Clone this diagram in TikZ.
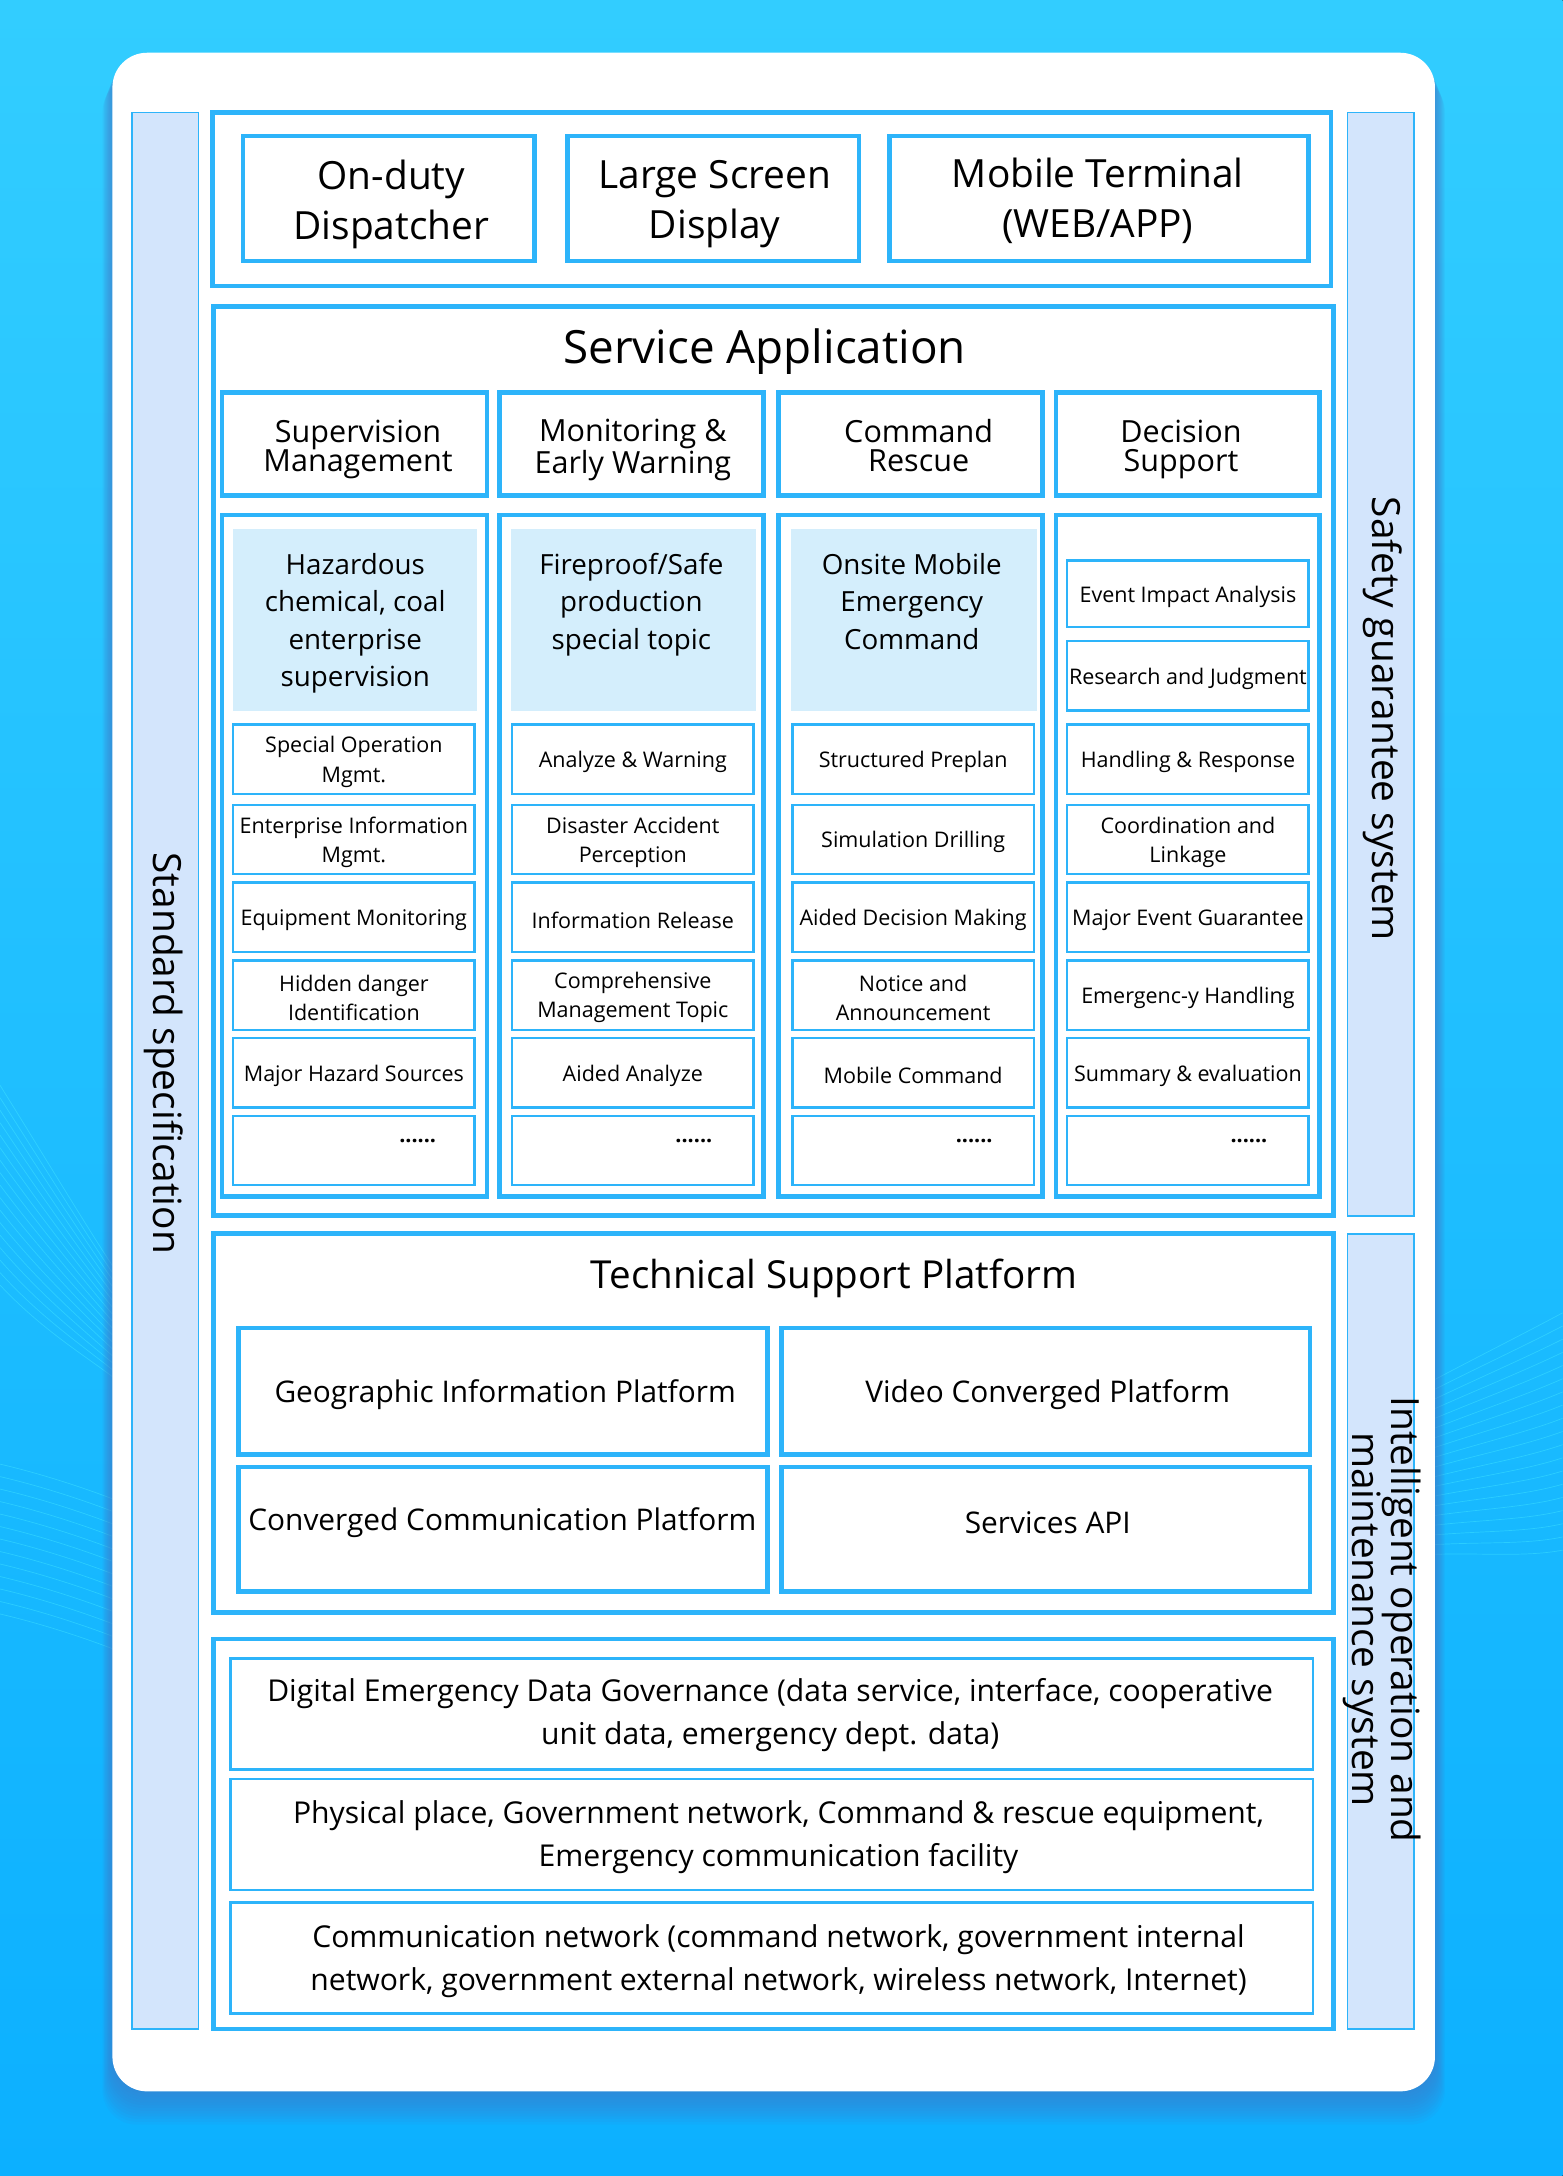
\documentclass[tikz,border=0pt]{standalone}
\usepackage{fontspec}
\setmainfont{Open Sans}
\definecolor{bgtop}{RGB}{50,205,255}
\definecolor{bgbot}{RGB}{12,176,255}
\definecolor{bblue}{RGB}{45,180,250}
\definecolor{barfill}{RGB}{211,229,252}
\definecolor{topicfill}{RGB}{212,238,252}
\definecolor{wavec}{RGB}{80,245,255}
\definecolor{shadowc}{RGB}{70,120,200}
\newcommand\fTop{\fontsize{28}{36}\selectfont}
\newcommand\fTitle{\fontsize{33}{38}\selectfont}
\newcommand\fHead{\fontsize{22}{21}\selectfont}
\newcommand\fTopic{\fontsize{20}{27}\selectfont}
\newcommand\fItem{\fontsize{15.5}{21}\selectfont}
\newcommand\fPlat{\fontsize{21.5}{28}\selectfont}
\newcommand\fPTitle{\fontsize{27.8}{32}\selectfont}
\newcommand\fBase{\fontsize{21.7}{31}\selectfont}
\newcommand\fSide{\fontsize{28}{19}\selectfont}
% \bx{name}{boxstyle}{x1}{y1}{x2}{y2}
\newcommand\bx[6]{\node[#2, minimum width={(#5-#3)*1pt}, minimum height={(#6-#4)*1pt}] (#1) at ({(#3+#5)/2},{(#4+#6)/2}) {};}
% \it{name}{x1}{y1}{x2}{y2}{text} : item box plus its text
\newcommand\itm[6]{\bx{#1}{thinbox}{#2}{#3}{#4}{#5}\node[itemtext] (#1t) at (#1.center) {#6};}
\begin{document}
\begin{tikzpicture}[x=1pt,y=-1pt,
  thickbox/.style={draw=bblue, line width=3.4pt, inner sep=0pt},
  thinbox/.style={draw=bblue, line width=1.7pt, inner sep=0pt},
  itemtext/.style={font=\fItem, align=center, inner sep=0pt, yshift=-2pt},
  sidebar/.style={draw=bblue, fill=barfill, line width=1.3pt, inner sep=0pt},
  topicbox/.style={fill=topicfill, inner sep=0pt},
  wave/.style={draw=wavec, line width=0.5pt, opacity=0.35}]
\useasboundingbox (0,0) rectangle (1126,1568);
\fill[top color=bgtop, bottom color=bgbot] (0,0) rectangle (1126,1568);
% decorative waves
\foreach \i in {0,...,16}{
  \draw[wave] (0,{782+\i*9}) .. controls (30,{830+\i*8}) and (60,{880+\i*6}) .. (81,{912+\i*5});
}
\foreach \i in {0,...,12}{
  \draw[wave] (0,{1055+\i*9}) .. controls (30,{1062+\i*9}) and (60,{1072+\i*9}) .. (81,{1080+\i*9});
}
\foreach \i in {0,...,18}{
  \draw[wave] (1034,{994+\i*7}) .. controls (1070,{975+\i*8}) and (1100,{960+\i*9}) .. (1126,{946+\i*9.5});
}
% card shadow
\foreach \i in {1,...,12}{
  \fill[shadowc, opacity=0.07, rounded corners=25pt] ({81-\i*0.6},{38+\i*1.5}) rectangle ({1034+\i*0.6},{1507+\i*2});
}
% card
\fill[white, rounded corners=25pt] (81,38) rectangle (1034,1507);

% side bars
\bx{stdbar}{sidebar}{95}{81}{143}{1462}
\node[font=\fSide, rotate=-90] (stdtxt) at (118,759) {Standard specification};
\bx{safebar}{sidebar}{971}{81}{1019}{876}
\node[font=\fSide, rotate=-90] (safetxt) at (996,518) {Safety guarantee system};
\bx{opbar}{sidebar}{971}{889}{1019}{1462}
\node[font=\fSide, rotate=-90, align=center] (optxt) at (996,1167) {Intelligent operation and\\maintenance system};

% top terminals
\bx{terminals}{thickbox}{153}{81}{959}{206}
\bx{duty}{thickbox}{175}{98}{385}{188}
\node[font=\fTop, align=center] (dutytxt) at (282,147) {On-duty\\Dispatcher};
\bx{screen}{thickbox}{409}{98}{619}{188}
\node[font=\fTop, align=center] (screentxt) at (515,147) {Large Screen\\Display};
\bx{mobile}{thickbox}{641}{98}{943}{188}
\node[font=\fTop, align=center] (mobiletxt) at (791,145) {Mobile Terminal\\(WEB/APP)};

% service application
\bx{service}{thickbox}{154}{221}{961}{876}
\node[font=\fTitle] (servicetitle) at (551,253) {Service Application};
\bx{h1}{thickbox}{160}{283}{351}{357}
\node[font=\fHead, align=center] (h1txt) at (258,324) {Supervision\\Management};
\bx{h2}{thickbox}{360}{283}{550}{357}
\node[font=\fHead, align=center] (h2txt) at (456,324) {Monitoring \&\\Early Warning};
\bx{h3}{thickbox}{561}{283}{751}{357}
\node[font=\fHead, align=center] (h3txt) at (662,321) {Command\\Rescue};
\bx{h4}{thickbox}{761}{283}{951}{357}
\node[font=\fHead, align=center] (h4txt) at (851,324) {Decision\\Support};
\bx{c1}{thickbox}{160}{371}{351}{862}
\bx{c2}{thickbox}{360}{371}{550}{862}
\bx{c3}{thickbox}{561}{371}{751}{862}
\bx{c4}{thickbox}{761}{371}{951}{862}
% topic blocks
\bx{t1}{topicbox}{168}{381}{344}{512}
\node[font=\fTopic, align=center, anchor=north] (t1txt) at (256,395) {Hazardous\\chemical, coal\\enterprise\\supervision};
\bx{t2}{topicbox}{368}{381}{545}{512}
\node[font=\fTopic, align=center, anchor=north] (t2txt) at (455,395) {Fireproof/Safe\\production\\special topic};
\bx{t3}{topicbox}{570}{381}{747}{512}
\node[font=\fTopic, align=center, anchor=north] (t3txt) at (657,395) {Onsite Mobile\\Emergency\\Command};
% column 1 items
\itm{a1}{168}{522}{342}{572}{Special Operation\\Mgmt.}
\itm{a2}{168}{580}{342}{630}{Enterprise Information\\Mgmt.}
\itm{a3}{168}{636}{342}{686}{Equipment Monitoring}
\itm{a4}{168}{692}{342}{742}{Hidden danger\\Identification}
\itm{a5}{168}{748}{342}{798}{Major Hazard Sources}
% column 2 items
\itm{b1}{369}{522}{543}{572}{Analyze \& Warning}
\itm{b2}{369}{580}{543}{630}{Disaster Accident\\Perception}
\itm{b3}{369}{636}{543}{686}{Information Release}
\itm{b4}{369}{692}{543}{742}{Comprehensive\\Management Topic}
\itm{b5}{369}{748}{543}{798}{Aided Analyze}
% column 3 items
\itm{d1}{571}{522}{745}{572}{Structured Preplan}
\itm{d2}{571}{580}{745}{630}{Simulation Drilling}
\itm{d3}{571}{636}{745}{686}{Aided Decision Making}
\itm{d4}{571}{692}{745}{742}{Notice and\\Announcement}
\itm{d5}{571}{748}{745}{798}{Mobile Command}
% column 4 items
\itm{e1}{769}{404}{943}{452}{Event Impact Analysis}
\itm{e2}{769}{462}{943}{512}{Research and Judgment}
\itm{e3}{769}{522}{943}{572}{Handling \& Response}
\itm{e4}{769}{580}{943}{630}{Coordination and\\Linkage}
\itm{e5}{769}{636}{943}{686}{Major Event Guarantee}
\itm{e6}{769}{692}{943}{742}{Emergenc-y Handling}
\itm{e7}{769}{748}{943}{798}{Summary \& evaluation}
% "......" boxes
\bx{a6}{thinbox}{168}{804}{342}{854}
\node[font=\fItem\bfseries] (a6txt) at (301,822) {......};
\bx{b6}{thinbox}{369}{804}{543}{854}
\node[font=\fItem\bfseries] (b6txt) at (500,822) {......};
\bx{d6}{thinbox}{571}{804}{745}{854}
\node[font=\fItem\bfseries] (d6txt) at (702,822) {......};
\bx{e8}{thinbox}{769}{804}{943}{854}
\node[font=\fItem\bfseries] (e8txt) at (900,822) {......};

% technical support platform
\bx{tech}{thickbox}{154}{889}{961}{1162}
\node[font=\fPTitle] (techtitle) at (601,921) {Technical Support Platform};
\bx{geo}{thickbox}{172}{957}{553}{1048}
\node[font=\fPlat] (geotxt) at (364,1005) {Geographic Information Platform};
\bx{video}{thickbox}{563}{957}{944}{1048}
\node[font=\fPlat] (videotxt) at (755,1005) {Video Converged Platform};
\bx{comm}{thickbox}{172}{1057}{553}{1147}
\node[font=\fPlat] (commtxt) at (362,1097) {Converged Communication Platform};
\bx{api}{thickbox}{563}{1057}{944}{1147}
\node[font=\fPlat] (apitxt) at (755,1097) {Services API};

% base layers
\bx{base}{thickbox}{154}{1181}{961}{1462}
\bx{data}{thinbox}{166}{1195}{946}{1275}
\node[font=\fBase, align=center] (datatxt) at (555,1236) {Digital Emergency Data Governance (data service, interface, cooperative\\unit data, emergency dept. data)};
\bx{phys}{thinbox}{166}{1282}{946}{1362}
\node[font=\fBase, align=center] (physttxt) at (561,1324) {Physical place, Government network, Command \& rescue equipment,\\Emergency communication facility};
\bx{net}{thinbox}{166}{1371}{946}{1451}
\node[font=\fBase, align=center] (nettxt) at (561,1413) {Communication network (command network, government internal\\network, government external network, wireless network, Internet)};
\end{tikzpicture}
\end{document}
